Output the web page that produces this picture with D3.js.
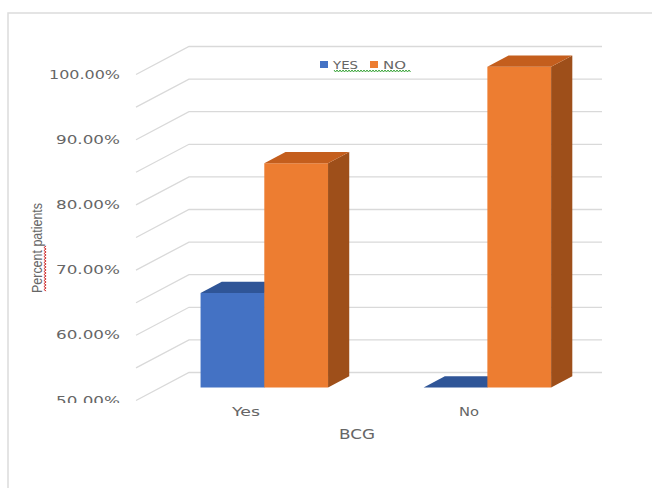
<!DOCTYPE html>
<html><head><meta charset="utf-8">
<script src="https://cdn.jsdelivr.net/npm/d3@7"></script>
<style>body{margin:0;background:#fff}</style>
</head><body>
<svg id="chart" width="652" height="488"></svg>
<script>
// BCG status vs. percent of patients, per response series
const categories = ["Yes", "No"];
const seriesNames = ["YES", "NO"];
const yesValues = [64.5, 0];     // series "YES", in percent
const noValues = [84.4, 99.2];   // series "NO", in percent
const yTickValues = [50, 60, 70, 80, 90, 100];
const gridValues = [50, 55, 60, 65, 70, 75, 80, 85, 90, 95, 100];

const svg = d3.select("#chart");
const textColor = "#666666";
const gridColor = "#d9d9d9";

// oblique depth vector for the 3-D look (z from 0 = front to 1 = back wall)
const DX = 53, DY = -28;
const zFront = 0.464, zBack = 0.864;

const y = d3.scaleLinear().domain([50, 100]).range([400.5, 74.5]);
const x = d3.scaleBand().domain(categories).range([136, 549])
  .paddingInner(1.5 / 3.5).paddingOuter(0.14).align(0.64);
const xs = d3.scaleBand().domain(seriesNames).range([0, x.bandwidth()]);

const P = (xv, v, z) => [xv + z * DX, y(v) + z * DY];
const poly = pts => "M" + pts.map(p => p.join(",")).join("L") + "Z";

// the value-axis label area ends just under the floor edge
svg.append("clipPath").attr("id", "axisClip")
  .append("rect").attr("x", 0).attr("y", 0).attr("width", 652).attr("height", 403);

// chart frame
svg.append("rect").attr("x", 8).attr("y", 13).attr("width", 660).attr("height", 490)
  .attr("fill", "none").attr("stroke", "#dcdcdc").attr("stroke-width", 1.5);

// side-wall and back-wall gridlines
const [x0, x1] = x.range();
svg.append("g").selectAll("path").data(gridValues).join("path")
  .attr("d", v => "M" + [P(x0, v, 0), P(x0, v, 1), P(x1, v, 1)].map(p => p.join(",")).join("L"))
  .attr("fill", "none").attr("stroke", gridColor).attr("stroke-width", 1.3);

// value axis labels
svg.append("g").attr("clip-path", "url(#axisClip)")
  .selectAll("text").data(yTickValues).join("text")
  .attr("x", 120).attr("y", v => y(v)).attr("dy", "0.35em")
  .attr("text-anchor", "end")
  .attr("font-family", "DejaVu Sans, sans-serif").attr("font-size", 11.5)
  .attr("fill", textColor)
  .attr("textLength", v => v === 100 ? 71 : 64).attr("lengthAdjust", "spacingAndGlyphs")
  .text(v => v.toFixed(2) + "%");

// bars
const colors = {
  YES: { front: "#4472C4", top: "#2F5597", side: "#284b86" },
  NO: { front: "#ED7D31", top: "#C45E1D", side: "#9E4F1A" }
};
const rows = [];
categories.forEach((c, i) => {
  rows.push({ cat: c, series: "YES", value: yesValues[i] });
  rows.push({ cat: c, series: "NO", value: noValues[i] });
});
const barG = svg.append("g");
rows.forEach(d => {
  const xl = x(d.cat) + xs(d.series), xr = xl + xs.bandwidth();
  const v = Math.max(50, Math.min(100, d.value));
  const col = colors[d.series];
  if (v > 50) {
    barG.append("path").attr("fill", col.front)
      .attr("d", poly([P(xl, 50, zFront), P(xr, 50, zFront), P(xr, v, zFront), P(xl, v, zFront)]));
    barG.append("path").attr("fill", col.side)
      .attr("d", poly([P(xr, 50, zFront), P(xr, 50, zBack), P(xr, v, zBack), P(xr, v, zFront)]));
  }
  barG.append("path").attr("fill", col.top)
    .attr("d", poly([P(xl, v, zFront), P(xr, v, zFront), P(xr, v, zBack), P(xl, v, zBack)]));
});

// category labels
svg.append("g").selectAll("text").data(categories).join("text")
  .attr("x", c => x(c) + x.bandwidth() / 2 + 0.12 * DX)
  .attr("y", 412).attr("dy", "0.35em").attr("text-anchor", "middle")
  .attr("font-family", "DejaVu Sans, sans-serif").attr("font-size", 12.5)
  .attr("fill", textColor)
  .attr("textLength", c => c === "Yes" ? 28 : 20).attr("lengthAdjust", "spacingAndGlyphs")
  .text(c => c);

// axis titles
svg.append("text").attr("x", 357).attr("y", 434).attr("dy", "0.35em")
  .attr("text-anchor", "middle").attr("font-family", "DejaVu Sans, sans-serif")
  .attr("font-size", 14).attr("fill", textColor)
  .attr("textLength", 36).attr("lengthAdjust", "spacingAndGlyphs").text("BCG");

svg.append("text").attr("transform", "translate(42,248) rotate(-90)")
  .attr("text-anchor", "middle").attr("font-family", "Liberation Sans Narrow, Liberation Sans, sans-serif")
  .attr("font-size", 14).attr("fill", textColor)
  .attr("textLength", 90).attr("lengthAdjust", "spacingAndGlyphs")
  .text("Percent patients");

// proofing squiggles under flagged words
function squiggle(xa, xb, yy, period, amp) {
  const pts = [];
  for (let t = xa, k = 0; t <= xb; t += period / 2, k++) pts.push([t, yy + (k % 2 ? amp : -amp)]);
  return d3.line()(pts);
}
svg.append("path").attr("d", squiggle(246, 291, 0, 3, 1.1))
  .attr("transform", "translate(45,0) rotate(90, 0, 0)")
  .attr("fill", "none").attr("stroke", "#d03030").attr("stroke-width", 1);

// legend
const legend = svg.append("g");
legend.append("path").attr("d", squiggle(334, 411, 71, 3, 1))
  .attr("fill", "none").attr("stroke", "#3aa53a").attr("stroke-width", 1);
seriesNames.forEach((s, i) => {
  const lx = 320 + i * 50;
  legend.append("rect").attr("x", lx).attr("y", 61).attr("width", 8).attr("height", 7)
    .attr("fill", colors[s].front);
  legend.append("text").attr("x", lx + 13).attr("y", 65).attr("dy", "0.35em")
    .attr("font-family", "DejaVu Sans, sans-serif").attr("font-size", 11)
    .attr("fill", textColor).attr("textLength", s === "YES" ? 25 : 23)
    .attr("lengthAdjust", "spacingAndGlyphs").text(s);
});
</script>
</body></html>
